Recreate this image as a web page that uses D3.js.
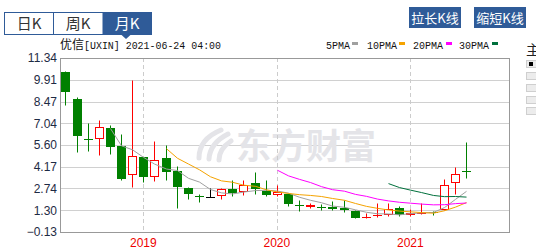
<!DOCTYPE html>
<html>
<head>
<meta charset="utf-8">
<script src="https://cdn.jsdelivr.net/npm/d3@7/dist/d3.min.js"></script>
<style>
body { margin: 0; background: #fff; }
svg { display: block; }
</style>
</head>
<body>
<div id="chart"></div>
<script>
// monthly candles, UXIN, Jun 2018 - Jun 2021
var months = ['2018-06','2018-07','2018-08','2018-09','2018-10','2018-11','2018-12',
    '2019-01','2019-02','2019-03','2019-04','2019-05','2019-06','2019-07','2019-08','2019-09','2019-10','2019-11','2019-12',
    '2020-01','2020-02','2020-03','2020-04','2020-05','2020-06','2020-07','2020-08','2020-09','2020-10','2020-11','2020-12',
    '2021-01','2021-02','2021-03','2021-04','2021-05','2021-06'];
var openP  = [10.44, 8.64, 6.02, 6.00, 6.75, 5.56, 3.63, 4.81, 3.50, 4.77, 3.91, 2.79, 2.27, 2.15, 2.25, 2.73, 2.53, 3.08, 2.59,
    2.30, 2.38, 1.66, 1.52, 1.51, 1.49, 1.43, 1.23, 0.78, 0.92, 1.01, 1.46, 0.97, 1.08, 1.19, 1.34, 3.10, 3.91];
var highP  = [10.48, 8.77, 7.08, 7.27, 6.92, 6.35, 9.91, 4.84, 5.89, 5.63, 4.20, 2.82, 2.35, 2.79, 2.77, 3.30, 3.30, 3.80, 3.27,
    2.95, 2.44, 1.96, 1.80, 1.69, 1.94, 2.00, 1.32, 1.09, 1.76, 1.80, 1.56, 1.39, 1.75, 1.26, 3.37, 4.18, 5.80];
var lowP   = [8.22, 5.12, 5.18, 4.92, 4.99, 3.27, 2.81, 3.14, 3.21, 3.32, 1.43, 2.07, 1.87, 2.15, 2.05, 2.22, 2.29, 2.40, 2.27,
    2.22, 1.56, 1.23, 1.43, 1.30, 1.35, 1.19, 0.77, 0.77, 0.89, 0.90, 0.90, 0.90, 1.05, 0.97, 1.29, 2.38, 3.41];
var closeP = [9.07, 6.17, 5.98, 6.79, 5.45, 3.34, 4.88, 3.47, 4.62, 3.80, 2.81, 2.35, 2.23, 2.15, 2.73, 2.46, 2.94, 2.71, 2.28,
    2.48, 1.72, 1.63, 1.67, 1.48, 1.41, 1.30, 0.77, 0.88, 0.98, 1.39, 1.00, 1.14, 1.12, 1.15, 2.97, 3.70, 3.80];

// moving average lines (null = not drawn yet)
var ma5 = [null, null, null, null, 6.69, 5.55, 5.29, 4.79, 4.35, 4.02, 3.92, 3.41, 3.16, 2.67, 2.45, 2.38, 2.50, 2.60, 2.62,
    2.57, 2.43, 2.16, 1.96, 1.80, 1.58, 1.50, 1.33, 1.17, 1.07, 1.06, 1.00, 1.08, 1.13, 1.16, 1.48, 2.02, 2.55];
var ma10 = [null, null, null, null, null, null, null, null, null, 5.36, 4.73, 4.35, 3.97, 3.51, 3.24, 3.15, 2.96, 2.88, 2.65,
    2.51, 2.41, 2.33, 2.28, 2.21, 2.08, 1.96, 1.75, 1.56, 1.43, 1.32, 1.25, 1.20, 1.15, 1.11, 1.27, 1.51, 1.81];
var ma20 = [null, null, null, null, null, null, null, null, null, null, null, null, null, null, null, null, null, null, null,
    3.94, 3.57, 3.34, 3.13, 2.86, 2.66, 2.56, 2.35, 2.22, 2.04, 1.92, 1.83, 1.77, 1.71, 1.66, 1.67, 1.74, 1.78];
var ma30 = [null, null, null, null, null, null, null, null, null, null, null, null, null, null, null, null, null, null, null,
    null, null, null, null, null, null, null, null, null, null, 3.06, 2.80, 2.63, 2.47, 2.28, 2.20, 2.21, 2.17];

var yTicks = [-0.13, 1.30, 2.74, 4.17, 5.60, 7.04, 8.47, 9.91, 11.34];
var yearTicks = ['2019-01', '2020-01', '2021-01'];
var maNames = ['5PMA', '10PMA', '20PMA', '30PMA'];
var tabNames = ['日K', '周K', '月K'];
var buttonNames = ['拉长K线', '缩短K线'];
var title = ['优信', '[UXIN] 2021-06-24 04:00'];

var maColors = ['#a0a0a0', '#f5a300', '#ff00ff', '#00703c'];
var maLegendX = [326, 367, 413, 459];
var maSwatchX = [352, 399, 446, 492];

var svg = d3.select('#chart')
    .append('svg')
    .attr('width', 536)
    .attr('height', 249);

var plotL = 60, plotR = 509, plotT = 58, plotB = 232;

var x = d3.scaleBand().domain(months).range([59.86, 471.5]);
var y = d3.scaleLinear().domain([-0.13, 11.34]).range([plotB, plotT]);
function cx(m) { return Math.round(x(m) + x.bandwidth() / 2) + 0.5; }
function cy(v) { return Math.round(y(v)) + 0.5; }

// tabs
var tabs = svg.append('g');
tabs.append('rect').attr('x', 4.5).attr('y', 12.5).attr('width', 147).attr('height', 22)
    .attr('fill', '#fff').attr('stroke', '#2f5b98');
tabs.append('rect').attr('x', 102.5).attr('y', 12.5).attr('width', 49).attr('height', 22)
    .attr('fill', '#2f5b98');
tabs.append('path').attr('d', 'M121,34.5L131,34.5L126,39Z').attr('fill', '#2f5b98');
tabs.append('line').attr('x1', 53.5).attr('x2', 53.5).attr('y1', 12.5).attr('y2', 34.5).attr('stroke', '#2f5b98');
tabs.selectAll('text.tab').data(tabNames).enter().append('text')
    .attr('x', function(d, i) { return 29 + i * 49; })
    .attr('y', 29)
    .attr('text-anchor', 'middle')
    .attr('font-family', '"Noto Sans CJK SC", sans-serif')
    .attr('font-size', 15)
    .attr('fill', function(d, i) { return i === 2 ? '#fff' : '#333'; })
    .text(function(d) { return d; });

// buttons
var btn = svg.append('g');
btn.selectAll('rect').data(buttonNames).enter().append('rect')
    .attr('x', function(d, i) { return 409 + i * 65; })
    .attr('y', 7).attr('width', 52).attr('height', 21)
    .attr('fill', '#2f5b98');
btn.selectAll('text').data(buttonNames).enter().append('text')
    .attr('x', function(d, i) { return 435 + i * 65; })
    .attr('y', 23)
    .attr('text-anchor', 'middle')
    .attr('font-family', '"Noto Sans CJK SC", sans-serif')
    .attr('font-size', 13)
    .attr('fill', '#fff')
    .text(function(d) { return d; });

// title
var t = svg.append('text').attr('x', 60).attr('y', 49).attr('fill', '#111');
t.append('tspan').attr('font-family', '"Noto Sans CJK SC", sans-serif').attr('font-size', 12).text(title[0]);
t.append('tspan').attr('font-family', '"Liberation Mono", monospace').attr('font-size', 11)
    .attr('textLength', 137).attr('lengthAdjust', 'spacingAndGlyphs').text(title[1]);

// legend
var lg = svg.append('g');
lg.selectAll('text').data(maNames).enter().append('text')
    .attr('x', function(d, i) { return maLegendX[i]; })
    .attr('y', 49)
    .attr('font-family', '"Liberation Mono", monospace')
    .attr('font-size', 11)
    .attr('textLength', function(d) { return d.length * 6; })
    .attr('lengthAdjust', 'spacingAndGlyphs')
    .attr('fill', '#111')
    .text(function(d) { return d; });
lg.selectAll('rect').data(maNames).enter().append('rect')
    .attr('x', function(d, i) { return maSwatchX[i]; })
    .attr('y', 42).attr('width', 6).attr('height', 3)
    .attr('fill', function(d, i) { return maColors[i]; });

// right side panel
svg.append('text').attr('x', 526).attr('y', 55)
    .attr('font-family', '"Noto Sans CJK SC", sans-serif').attr('font-size', 14).attr('fill', '#222').text('主');
[60.5, 72.5, 84.5, 96.5, 107.5].forEach(function(py, i) {
    svg.append('rect').attr('x', 526.5).attr('y', py).attr('width', 14).attr('height', 7)
        .attr('fill', '#ececec').attr('stroke', '#cfcfcf');
    if (i === 0) svg.append('rect').attr('x', 529).attr('y', 62).attr('width', 4).attr('height', 4).attr('fill', '#000');
});

// grid
var grid = svg.append('g');
grid.selectAll('line').data(yTicks).enter().append('line')
    .attr('x1', plotL).attr('x2', plotR)
    .attr('y1', function(d) { return cy(d); })
    .attr('y2', function(d) { return cy(d); })
    .attr('stroke', '#d0d0d0');

// watermark
var wm = svg.append('g').attr('fill', 'none').attr('stroke', '#e4e4e8').attr('stroke-width', 5).attr('stroke-linecap', 'round');
wm.append('path').attr('d', 'M221,130 Q199,139 199,158');
wm.append('path').attr('d', 'M228,134 Q210,143 209,159');
wm.append('path').attr('d', 'M231,141 Q219,149 219,160');
svg.append('text').attr('x', 236).attr('y', 159)
    .attr('font-family', '"Noto Sans CJK SC", sans-serif').attr('font-weight', 'bold')
    .attr('font-size', 35).attr('fill', '#e4e4e8').text('东方财富');

// year dashed lines
svg.append('g').selectAll('line').data(yearTicks).enter().append('line')
    .attr('x1', function(d) { return cx(d); })
    .attr('x2', function(d) { return cx(d); })
    .attr('y1', plotT).attr('y2', plotB)
    .attr('stroke', '#cccccc').attr('stroke-dasharray', '4,3');

// axes
var yAxis = d3.axisLeft(y).tickValues(yTicks).tickFormat(d3.format('.2f')).tickSize(0).tickPadding(3);
var ya = svg.append('g').attr('transform', 'translate(' + plotL + ',0)').call(yAxis);
ya.select('.domain').remove();
ya.selectAll('text').attr('font-family', '"Liberation Sans", Arial, sans-serif').attr('font-size', 12).attr('fill', '#1e2a44');

var xAxis = d3.axisBottom(x).tickValues(yearTicks).tickFormat(function(d) { return d.slice(0, 4); }).tickSize(0).tickPadding(6);
var xa = svg.append('g').attr('transform', 'translate(0,' + plotB + ')').call(xAxis);
xa.select('.domain').remove();
xa.selectAll('text').attr('font-family', '"Liberation Sans", Arial, sans-serif').attr('font-size', 12).attr('fill', '#ee0000');

// candles
var data = months.map(function(m, i) {
    return { m: m, o: openP[i], h: highP[i], l: lowP[i], c: closeP[i] };
});
function col(d) { return d.c > d.o ? '#ff0000' : (d.c < d.o ? '#008000' : '#000000'); }

var cg = svg.append('g');
var candle = cg.selectAll('g').data(data).enter().append('g');
candle.append('line')
    .attr('x1', function(d) { return cx(d.m); })
    .attr('x2', function(d) { return cx(d.m); })
    .attr('y1', function(d) { return cy(d.h); })
    .attr('y2', function(d) { return cy(d.l); })
    .attr('stroke', col);
candle.each(function(d) {
    var g = d3.select(this);
    var yt = Math.round(y(Math.max(d.o, d.c))), yb = Math.round(y(Math.min(d.o, d.c)));
    var x0 = cx(d.m) - 0.5;
    if (yb - yt < 2) {
        g.append('rect').attr('x', x0 - 4).attr('y', yt).attr('width', 9).attr('height', Math.max(1, yb - yt))
            .attr('fill', col(d));
    } else if (d.c > d.o) {
        g.append('rect').attr('x', x0 - 3.5).attr('y', yt + 0.5).attr('width', 8).attr('height', yb - yt - 1)
            .attr('fill', '#fff').attr('stroke', col(d));
    } else {
        g.append('rect').attr('x', x0 - 4).attr('y', yt).attr('width', 9).attr('height', yb - yt)
            .attr('fill', col(d));
    }
});

// moving averages
var maSeries = [ma5, ma10, ma20, ma30];
var line = d3.line()
    .defined(function(d) { return d.v != null; })
    .x(function(d) { return cx(d.m); })
    .y(function(d) { return y(d.v); });
svg.append('g').selectAll('path').data(maSeries).enter().append('path')
    .attr('d', function(s) { return line(s.map(function(v, i) { return { m: months[i], v: v }; })); })
    .attr('fill', 'none')
    .attr('stroke', function(s, i) { return maColors[i]; })
    .attr('stroke-width', 1);

// frame
svg.append('rect').attr('x', plotL + 0.5).attr('y', plotT + 0.5)
    .attr('width', plotR - plotL).attr('height', plotB - plotT)
    .attr('fill', 'none').attr('stroke', '#999');
</script>
</body>
</html>
